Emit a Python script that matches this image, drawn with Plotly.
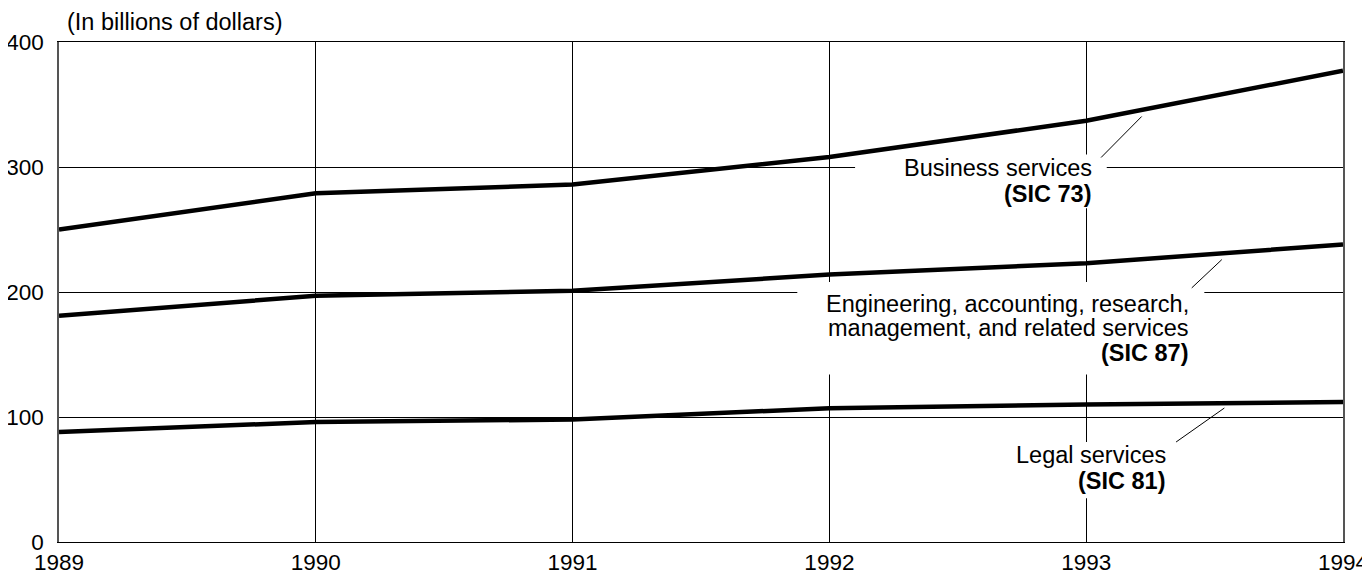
import plotly.graph_objects as go

# === DATA ===
years = [1989, 1990, 1991, 1992, 1993, 1994]
business = [250, 279, 286, 308, 337, 377]       # SIC 73
engineering = [181, 197, 201, 214, 223, 238]    # SIC 87
legal = [88, 96, 98, 107, 110, 112]             # SIC 81

y_ticks = [0, 100, 200, 300, 400]
unit_label = "(In billions of dollars)"

FONT = "Liberation Sans, Arial, sans-serif"
FS = 23.5
TICK_FS = 22.5

fig = go.Figure()

for series in [business, engineering, legal]:
    fig.add_trace(go.Scatter(x=years, y=series, mode="lines",
                             line=dict(color="black", width=4.5),
                             showlegend=False, hoverinfo="skip"))

# white boxes behind the labels, masking the grid
boxes = [
    (1992.10, 1993.08, 267, 310),
    (1991.875, 1993.46, 134, 208),
    (1992.80, 1993.47, 35, 80),
]
for x0, x1, y0, y1 in boxes:
    fig.add_shape(type="rect", xref="x", yref="y", x0=x0, x1=x1, y0=y0, y1=y1,
                  fillcolor="white", line=dict(width=0), layer="between")

# leader lines
leaders = [
    (1993.058, 307.6, 1993.216, 340.4),
    (1993.411, 203.3, 1993.528, 225.9),
    (1993.350, 80.0, 1993.538, 107.2),
]
for x0, y0, x1, y1 in leaders:
    fig.add_shape(type="line", xref="x", yref="y", x0=x0, y0=y0, x1=x1, y1=y1,
                  line=dict(color="black", width=1), layer="above")

# labels, one line each so the leading can be tight
labels = [
    (1993.03, 299.5, "Business services"),
    (1993.03, 278.5, "<b>(SIC 73)</b>"),
    (1993.41, 190.5, "Engineering, accounting, research,"),
    (1993.41, 171, "management, and related services"),
    (1993.41, 151.5, "<b>(SIC 87)</b>"),
    (1993.32, 69.5, "Legal services"),
    (1993.32, 49, "<b>(SIC 81)</b>"),
]
for x, y, t in labels:
    fig.add_annotation(x=x, y=y, xref="x", yref="y", text=t, showarrow=False,
                       xanchor="right", yanchor="middle", align="right",
                       font=dict(family=FONT, size=FS, color="black"))

fig.add_annotation(x=0.005, y=1.04, xref="paper", yref="paper", text=unit_label,
                   showarrow=False, xanchor="left", yanchor="middle",
                   font=dict(family=FONT, size=FS, color="black"))

# page body has an 8px margin, so the figure is sized and offset to fit
fig.update_layout(
    width=1362, height=563,
    margin=dict(l=51, r=27, t=34, b=29, autoexpand=False),
    paper_bgcolor="white", plot_bgcolor="white",
    font=dict(family=FONT, size=FS, color="black"),
    xaxis=dict(range=[1989, 1994], tickvals=years, ticktext=[str(y) for y in years],
               showgrid=True, gridcolor="black", gridwidth=1, automargin=False,
               showline=True, linecolor="black", linewidth=1, mirror=True,
               zeroline=False, ticks="", ticklabelstandoff=0, tickfont=dict(size=TICK_FS)),
    yaxis=dict(range=[0, 400], tickvals=y_ticks, automargin=False,
               showgrid=True, gridcolor="black", gridwidth=1,
               showline=True, linecolor="#555555", linewidth=1.5, mirror=True,
               zeroline=False, ticks="", ticklabelstandoff=9, tickfont=dict(size=TICK_FS)),
)

fig.write_html("out.html")
